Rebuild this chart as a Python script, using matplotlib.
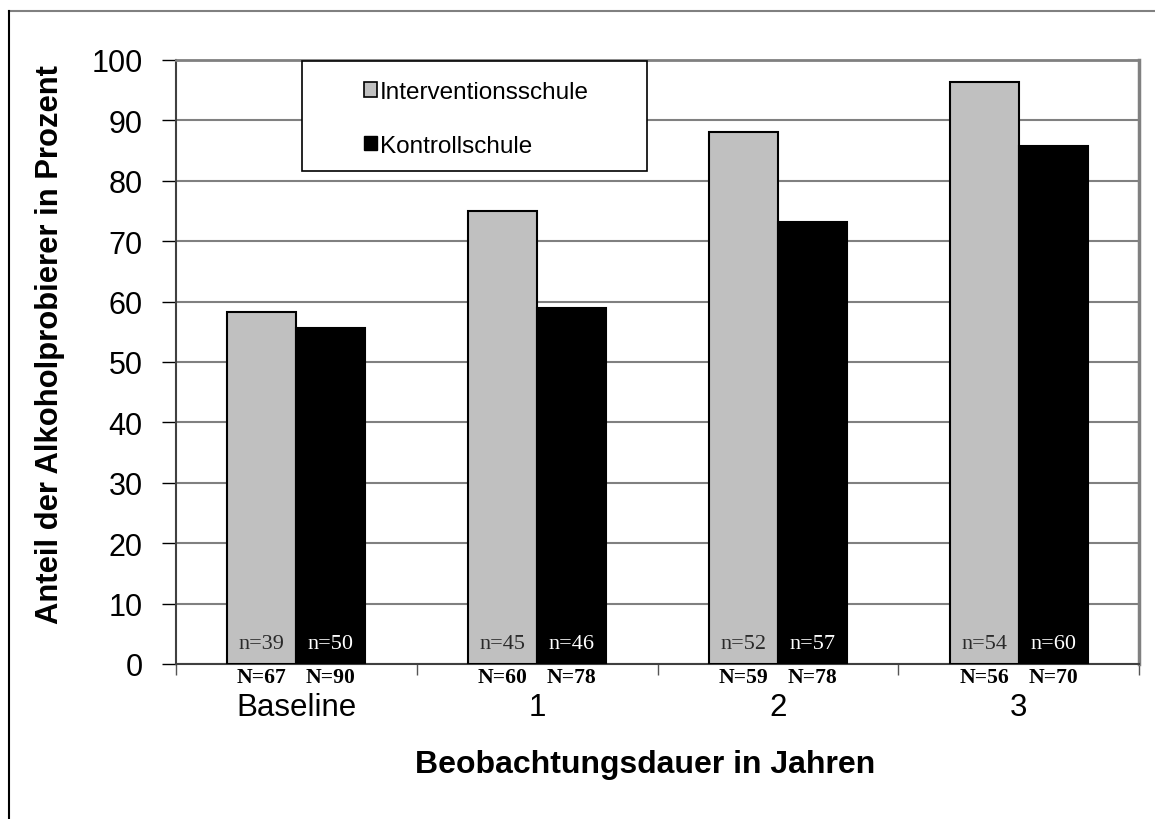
import matplotlib
matplotlib.use('Agg')
import matplotlib.pyplot as plt
from matplotlib.patches import Patch, Rectangle
from matplotlib.lines import Line2D
import numpy as np

categories = ['Baseline', '1', '2', '3']
interv = [58.2, 75.0, 88.1, 96.4]
kontroll = [55.6, 58.9, 73.2, 85.8]
n_interv = ['n=39', 'n=45', 'n=52', 'n=54']
n_kontroll = ['n=50', 'n=46', 'n=57', 'n=60']
N_interv = ['N=67', 'N=60', 'N=59', 'N=56']
N_kontroll = ['N=90', 'N=78', 'N=78', 'N=70']

W, H = 1155, 820
plt.rcParams['font.family'] = ['Liberation Sans', 'DejaVu Sans']

fig = plt.figure(figsize=(W/100, H/100), dpi=100)
ax = fig.add_axes([176/W, 1-665/H, 963/W, 604/H])

x = np.arange(len(categories)) + 0.5
bw = 0.287
ax.bar(x - bw/2, interv, bw, color='#c0c0c0', edgecolor='black', linewidth=1.5, zorder=3)
ax.bar(x + bw/2, kontroll, bw, color='black', edgecolor='black', linewidth=1.5, zorder=3)

for i in range(len(categories)):
    ax.text(x[i] - bw/2, 3.4, n_interv[i], ha='center', va='center', fontsize=16,
            family='Liberation Serif', color='#2a2a2a', zorder=4)
    ax.text(x[i] + bw/2, 3.4, n_kontroll[i], ha='center', va='center', fontsize=16,
            family='Liberation Serif', color='white', zorder=4)
    ax.text(x[i] - bw/2, -2.1, N_interv[i], ha='center', va='center', fontsize=15.6,
            family='Liberation Serif', fontweight='bold', clip_on=False)
    ax.text(x[i] + bw/2, -2.1, N_kontroll[i], ha='center', va='center', fontsize=15.6,
            family='Liberation Serif', fontweight='bold', clip_on=False)

ax.set_xlim(0, 4)
ax.set_ylim(0, 100)
ax.set_yticks(range(0, 101, 10))
ax.set_xticks(range(0, 5))
ax.set_xticklabels([])
ax.set_xticks(x, minor=True)
ax.set_xticklabels(categories, minor=True)
ax.tick_params(axis='x', which='major', direction='out', length=8, width=1, color='#555555')
ax.tick_params(axis='x', which='minor', length=0, pad=20, labelsize=22.5)
ax.tick_params(axis='y', direction='out', length=10, width=1, pad=14, labelsize=22, color='black')

ax.yaxis.grid(True, color='#808080', linewidth=1.5, zorder=0)
ax.set_axisbelow(True)
ax.spines['top'].set_color('#808080')
ax.spines['top'].set_linewidth(2)
ax.spines['right'].set_color('#808080')
ax.spines['right'].set_linewidth(2.5)
ax.spines['left'].set_color('#404040')
ax.spines['left'].set_linewidth(1.5)
ax.spines['bottom'].set_color('#404040')
ax.spines['bottom'].set_linewidth(1.5)

ax.set_ylabel('Anteil der Alkoholprobierer in Prozent', fontsize=22.3, fontweight='bold')
ax.yaxis.set_label_coords((65-176)/963, (665-345)/604)
fig.text(645/W, 1-765/H, 'Beobachtungsdauer in Jahren', ha='center', va='center',
         fontsize=23, fontweight='bold')

# legend box
box = Rectangle((302/W, 1-172/H), 345/W, 110/H, transform=fig.transFigure,
                facecolor='white', edgecolor='black', linewidth=1.2, zorder=5)
fig.add_artist(box)
handles = [Patch(facecolor='#c0c0c0', edgecolor='black', linewidth=1.2, label='Interventionsschule'),
           Patch(facecolor='black', edgecolor='black', label='Kontrollschule')]
leg = fig.legend(handles=handles, loc='upper left', bbox_to_anchor=(364/W, 1-82/H),
                 frameon=False, fontsize=17.5, handlelength=0.55, handleheight=0.55,
                 handletextpad=0.1, labelspacing=1.3, borderpad=0, borderaxespad=0)
leg.set_zorder(6)

# outer frame (only top and left visible)
fig.add_artist(Line2D([9/W, 1], [1-12/H, 1-12/H], transform=fig.transFigure, color='#808080', linewidth=1.5))
fig.add_artist(Line2D([9/W, 9/W], [0, 1-12/H], transform=fig.transFigure, color='black', linewidth=1.5))

fig.savefig('out.png', dpi=100)
